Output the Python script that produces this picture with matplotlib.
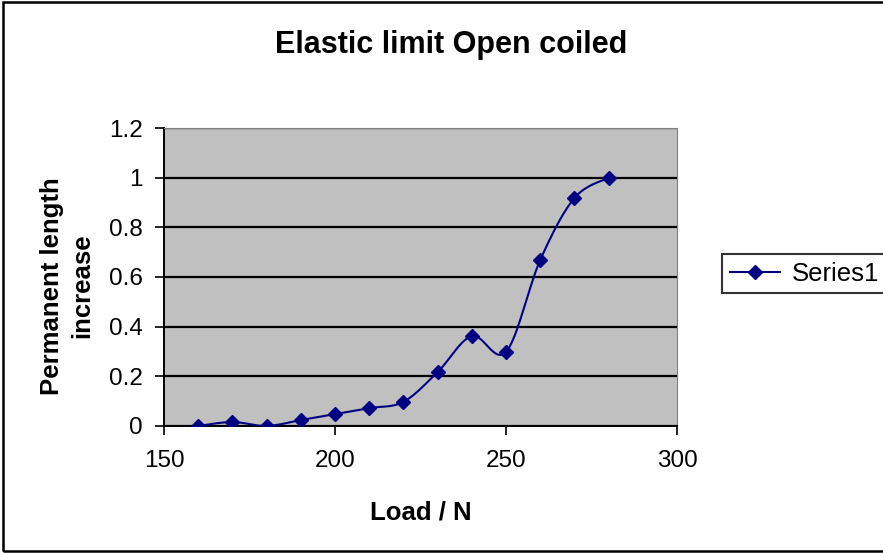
import matplotlib
matplotlib.use("Agg")
import matplotlib.pyplot as plt
import numpy as np

plt.rcParams['font.family'] = ['Liberation Sans', 'DejaVu Sans']

load = [160, 170, 180, 190, 200, 210, 220, 230, 240, 250, 260, 270, 280]
length_increase = [0.0, 0.016, 0.0, 0.024, 0.048, 0.072, 0.097, 0.217, 0.362, 0.298, 0.668, 0.918, 1.0]


def smooth(xs, ys, n=20):
    # Excel-style smoothed line (Catmull-Rom Bezier segments)
    xs = np.asarray(xs, float)
    ys = np.asarray(ys, float)
    px = np.concatenate([[xs[0]], xs, [xs[-1]]])
    py = np.concatenate([[ys[0]], ys, [ys[-1]]])
    outx, outy = [], []
    t = np.linspace(0, 1, n)
    for i in range(1, len(px) - 2):
        p0 = np.array([px[i], py[i]])
        p3 = np.array([px[i + 1], py[i + 1]])
        c1 = p0 + (np.array([px[i + 1], py[i + 1]]) - np.array([px[i - 1], py[i - 1]])) / 6
        c2 = p3 - (np.array([px[i + 2], py[i + 2]]) - np.array([px[i], py[i]])) / 6
        b = ((1 - t) ** 3)[:, None] * p0 + (3 * (1 - t) ** 2 * t)[:, None] * c1 \
            + (3 * (1 - t) * t ** 2)[:, None] * c2 + (t ** 3)[:, None] * p3
        outx.extend(b[:, 0])
        outy.extend(b[:, 1])
    return outx, outy


fig = plt.figure(figsize=(8.83, 5.53), dpi=100)
ax = fig.add_axes([0.1857, 0.2297, 0.581, 0.5388])
ax.set_facecolor('#C0C0C0')

sx, sy = smooth(load, length_increase)
ax.plot(sx, sy, color='#000080', lw=1.5, zorder=3)
ax.plot(load, length_increase, ls='none', marker='D', ms=7, color='#000080', zorder=4)
ax.plot([], [], color='#000080', lw=1.5, marker='D', ms=7, label='Series1')

ax.set_xlim(150, 300)
ax.set_ylim(0, 1.2)
ax.set_xticks([150, 200, 250, 300])
ax.set_yticks([0, 0.2, 0.4, 0.6, 0.8, 1.0, 1.2])
ax.set_yticklabels(['0', '0.2', '0.4', '0.6', '0.8', '1', '1.2'])
ax.yaxis.grid(True, color='black', lw=1.6)
ax.set_axisbelow(True)
ax.tick_params(labelsize=17.5, direction='out', length=6.5, width=1.2, color='black')
ax.tick_params(axis='x', pad=11)
ax.tick_params(axis='y', pad=9)
for s in ['top', 'right']:
    ax.spines[s].set_color('#808080')
for s in ['left', 'bottom']:
    ax.spines[s].set_color('black')
    ax.spines[s].set_linewidth(1.4)

fig.text(451 / 883, 1 - 45 / 553, 'Elastic limit Open coiled', fontsize=22,
         fontweight='bold', ha='center', va='center')
fig.text(421 / 883, 1 - 512 / 553, 'Load / N', fontsize=18.5, fontweight='bold',
         ha='center', va='center')
fig.text(67 / 883, 1 - 286 / 553, 'Permanent length\nincrease', fontsize=18.5,
         fontweight='bold', ha='center', va='center', rotation=90,
         multialignment='center', linespacing=1.3)

leg = fig.legend(loc='upper left', bbox_to_anchor=(722 / 883, 1 - 254 / 553), fontsize=18.5,
                 frameon=True, fancybox=False, edgecolor='black', handlelength=1.95,
                 handletextpad=0.45, borderpad=0.3, borderaxespad=0)
leg.get_frame().set_linewidth(1.5)

fig.patches.append(plt.Rectangle((0.003, 0.003), 1.1, 0.993, transform=fig.transFigure,
                                 fill=False, edgecolor='black', lw=1.8))

fig.savefig('out.png', dpi=100)
